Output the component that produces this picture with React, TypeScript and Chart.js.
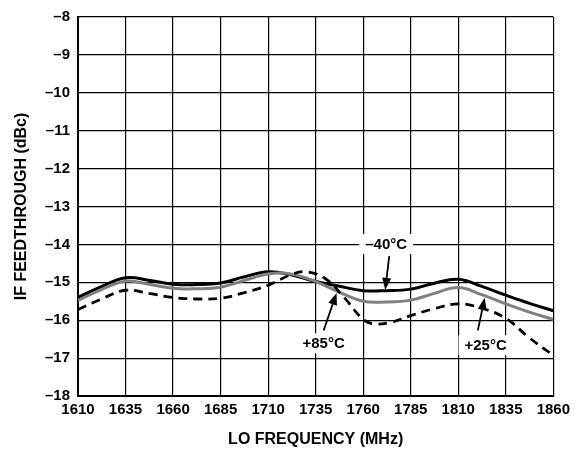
import React, { useEffect, useRef } from "react";
import { Chart, registerables } from "chart.js";

Chart.register(...registerables);

const freqMain = [1610, 1622, 1635, 1648, 1660, 1672, 1685, 1697, 1710, 1722, 1735, 1747, 1760, 1772, 1785, 1797, 1810, 1822, 1835, 1847, 1860];
const minus40 = [-15.40, -15.12, -14.88, -14.95, -15.05, -15.06, -15.02, -14.86, -14.72, -14.80, -14.98, -15.10, -15.22, -15.22, -15.18, -15.03, -14.92, -15.10, -15.34, -15.55, -15.75];
const plus25 = [-15.48, -15.20, -14.97, -15.06, -15.16, -15.17, -15.13, -14.96, -14.78, -14.78, -14.98, -15.25, -15.50, -15.52, -15.47, -15.30, -15.14, -15.32, -15.57, -15.78, -15.98];
const freq85 = [1610, 1622, 1635, 1648, 1660, 1672, 1685, 1697, 1710, 1722, 1730, 1740, 1750, 1760, 1766, 1775, 1785, 1797, 1810, 1822, 1835, 1847, 1860];
const plus85 = [-15.72, -15.45, -15.21, -15.30, -15.40, -15.44, -15.42, -15.28, -15.08, -14.80, -14.72, -14.90, -15.40, -15.98, -16.10, -16.05, -15.88, -15.70, -15.57, -15.68, -15.95, -16.45, -16.93];

const xTicks = [1610, 1635, 1660, 1685, 1710, 1735, 1760, 1785, 1810, 1835, 1860];
const yTicks = [-18, -17, -16, -15, -14, -13, -12, -11, -10, -9, -8];

// annotations: label position, arrow tail, arrow head (data coords)
const labelTexts = ["–40°C", "+85°C", "+25°C"];
const labelPos = [[1772.1, -13.99], [1739.2, -16.61], [1824.4, -16.66]];
const arrowTail = [[1773.7, -14.31], [1739.2, -16.27], [1820.3, -16.27]];
const arrowHead = [[1771.6, -15.20], [1746.0, -15.28], [1823.9, -15.41]];

const FONT = "'Liberation Sans', Arial, sans-serif";

const annotationPlugin = {
  id: "annotations",
  afterDatasetsDraw(chart: any) {
    const ctx = chart.ctx;
    const xs = chart.scales.x;
    const ys = chart.scales.y;
    ctx.save();
    ctx.font = `bold 15px ${FONT}`;
    ctx.textAlign = "center";
    ctx.textBaseline = "middle";
    for (let i = 0; i < labelTexts.length; i++) {
      const lx = xs.getPixelForValue(labelPos[i][0]);
      const ly = ys.getPixelForValue(labelPos[i][1]);
      const w = ctx.measureText(labelTexts[i]).width;
      ctx.fillStyle = "#ffffff";
      ctx.fillRect(lx - w / 2 - 6, ly - 10, w + 12, 20);
      ctx.fillStyle = "#000000";
      ctx.fillText(labelTexts[i], lx, ly + 1);
      const tx = xs.getPixelForValue(arrowTail[i][0]);
      const ty = ys.getPixelForValue(arrowTail[i][1]);
      const hx = xs.getPixelForValue(arrowHead[i][0]);
      const hy = ys.getPixelForValue(arrowHead[i][1]);
      const ang = Math.atan2(hy - ty, hx - tx);
      const len = 12;
      const half = 4.5;
      const bx = hx - len * Math.cos(ang);
      const by = hy - len * Math.sin(ang);
      ctx.strokeStyle = "#000";
      ctx.lineWidth = 1.8;
      ctx.beginPath();
      ctx.moveTo(tx, ty);
      ctx.lineTo(bx, by);
      ctx.stroke();
      ctx.beginPath();
      ctx.moveTo(hx, hy);
      ctx.lineTo(bx + half * Math.sin(ang), by - half * Math.cos(ang));
      ctx.lineTo(bx - half * Math.sin(ang), by + half * Math.cos(ang));
      ctx.closePath();
      ctx.fill();
    }
    ctx.restore();
  },
};

const fmt = (v: number) => (v < 0 ? "–" + Math.abs(v) : String(v));

export default function App() {
  const ref = useRef<HTMLCanvasElement | null>(null);
  useEffect(() => {
    if (!ref.current) return;
    const chart = new Chart(ref.current, {
      type: "line",
      data: {
        datasets: [
          {
            label: "+85°C",
            data: freq85.map((f, i) => ({ x: f, y: plus85[i] })),
            borderColor: "#000000",
            borderWidth: 2.8,
            borderDash: [9, 6],
            pointRadius: 0,
            tension: 0.4,
            fill: false,
          },
          {
            label: "+25°C",
            data: freqMain.map((f, i) => ({ x: f, y: plus25[i] })),
            borderColor: "#808080",
            borderWidth: 3,
            pointRadius: 0,
            tension: 0.4,
            fill: false,
          },
          {
            label: "–40°C",
            data: freqMain.map((f, i) => ({ x: f, y: minus40[i] })),
            borderColor: "#000000",
            borderWidth: 3,
            pointRadius: 0,
            tension: 0.4,
            fill: false,
          },
        ],
      },
      options: {
        responsive: false,
        animation: false,
        layout: { padding: { top: 14, right: 19, left: 0, bottom: 0 } },
        plugins: { legend: { display: false }, tooltip: { enabled: false } },
        scales: {
          x: {
            type: "linear",
            min: 1610,
            max: 1860,
            afterBuildTicks: (s: any) => {
              s.ticks = xTicks.map((v) => ({ value: v }));
            },
            afterFit: (s: any) => {
              s.height = 53;
            },
            ticks: {
              color: "#000",
              font: { family: FONT, size: 15, weight: "bold" },
              padding: 5,
              maxRotation: 0,
              autoSkip: false,
              callback: (v: any) => String(v),
            },
            grid: { color: "#000", lineWidth: 1.2, drawTicks: false },
            border: { color: "#000", width: 2 },
            title: {
              display: true,
              text: "LO FREQUENCY (MHz)",
              color: "#000",
              font: { family: FONT, size: 16, weight: "bold" },
              padding: { top: 0, bottom: 0 },
            },
          },
          y: {
            type: "linear",
            min: -18,
            max: -8,
            afterBuildTicks: (s: any) => {
              s.ticks = yTicks.map((v) => ({ value: v }));
            },
            afterFit: (s: any) => {
              s.width = 78;
            },
            ticks: {
              color: "#000",
              font: { family: FONT, size: 15, weight: "bold" },
              padding: 8,
              callback: (v: any) => fmt(Number(v)),
              autoSkip: false,
            },
            grid: { color: "#000", lineWidth: 1.2, drawTicks: false },
            border: { color: "#000", width: 2 },
            title: {
              display: true,
              text: "IF FEEDTHROUGH (dBc)",
              color: "#000",
              font: { family: FONT, size: 16, weight: "bold" },
              padding: { top: 12, bottom: 0 },
            },
          },
        },
      },
      plugins: [annotationPlugin],
    } as any);
    return () => chart.destroy();
  }, []);
  return (
    <div style={{ position: "fixed", left: 0, top: 0, width: 575, height: 449, background: "#fff" }}>
      <canvas ref={ref} width={575} height={449} style={{ display: "block" }} />
    </div>
  );
}
